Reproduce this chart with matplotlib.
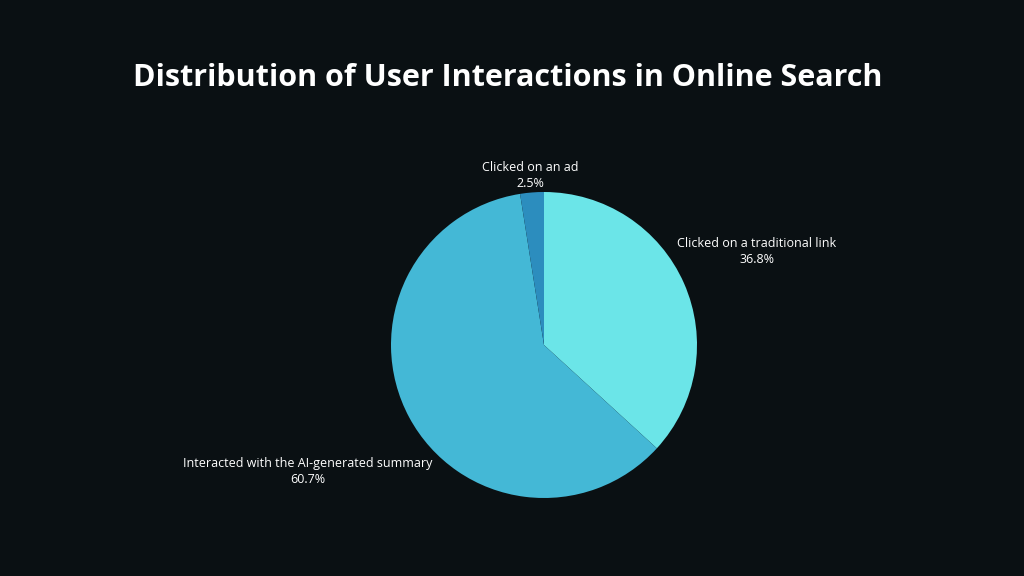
import numpy as np
import matplotlib.pyplot as plt

categories = ["Clicked on a traditional link", "Interacted with the AI-generated summary", "Clicked on an ad"]
shares = [36.8, 60.7, 2.5]
colors = ["#6BE5E8", "#44B8D6", "#2C8DBE"]
label_dist = [1.52, 1.75, 1.11]

bg = "#0A1013"
fig = plt.figure(figsize=(10.24, 5.76), dpi=100, facecolor=bg)
fig.text(0.496, 0.865, "Distribution of User Interactions in Online Search",
         ha="center", va="center", color="white", fontsize=22,
         fontweight="bold", family="Open Sans")

ax = fig.add_axes([(544 - 153) / 1024, (231 - 153) / 576, 306 / 1024, 306 / 576])
ax.set_facecolor(bg)
wedges, _ = ax.pie(shares, colors=colors, startangle=90, counterclock=False,
                   radius=1, wedgeprops=dict(linewidth=0))
for w, cat, val, d in zip(wedges, categories, shares, label_dist):
    mid = np.deg2rad((w.theta1 + w.theta2) / 2)
    ax.text(d * np.cos(mid), d * np.sin(mid), f"{cat}\n{val}%",
            ha="center", va="center", color="white", fontsize=9,
            family="Open Sans", linespacing=1.3)
ax.set_xlim(-1, 1)
ax.set_ylim(-1, 1)
ax.set_aspect("equal")
ax.axis("off")

fig.savefig("out.png", dpi=100, facecolor=bg)
